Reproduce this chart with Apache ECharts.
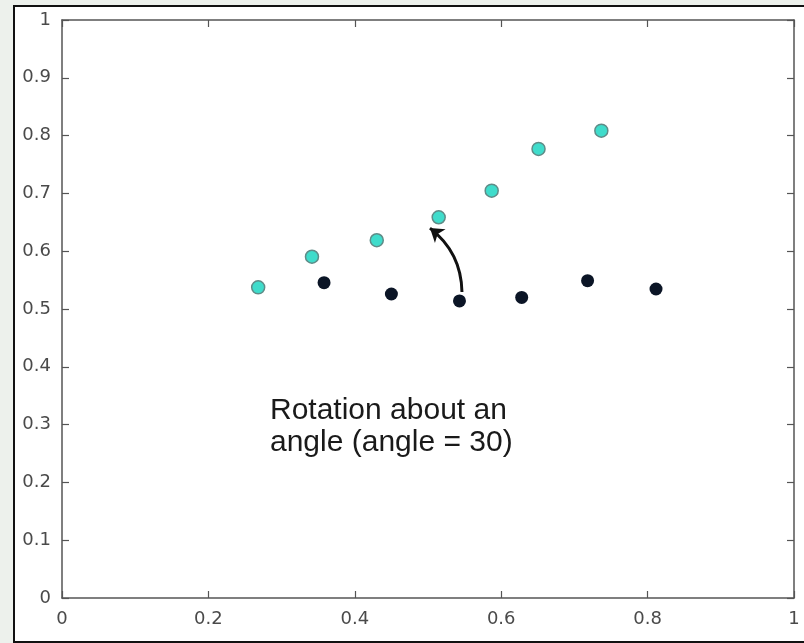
<!DOCTYPE html>
<html>
<head>
<meta charset="utf-8">
<script src="https://cdn.jsdelivr.net/npm/echarts@6/dist/echarts.min.js"></script>
<style>
  html, body { margin: 0; padding: 0; background: #edf1ec; }
  #frame { position: absolute; left: 13px; top: 5px; width: 800px; height: 634px;
           border: 2px solid #111; border-right: none; background: #fff; }
  #chart { position: absolute; left: 0; top: 0; width: 804px; height: 643px; }
</style>
</head>
<body>
<div id="frame"></div>
<div id="chart"></div>
<script>
// Original points (dark) and the same points rotated by 30 degrees (turquoise)
const originalX = [0.358, 0.450, 0.543, 0.628, 0.718, 0.8115];
const originalY = [0.5455, 0.526, 0.514, 0.520, 0.549, 0.5346];
const rotatedX = [0.268, 0.3415, 0.430, 0.5146, 0.587, 0.651, 0.7368];
const rotatedY = [0.5375, 0.5905, 0.619, 0.6587, 0.7047, 0.777, 0.8085];

// Curved arrow from an original point towards its rotated position
const arrowFrom = [0.5464, 0.5294];
const arrowTo = [0.5027, 0.640];

const noteLines = ['Rotation about an', 'angle (angle = 30)'];

const axisColor = '#555';
const tickFont = { color: '#4a4a4a', fontSize: 18, fontFamily: 'DejaVu Sans' };

const pairs = (xs, ys) => xs.map((x, i) => [x, ys[i]]);

const chart = echarts.init(document.getElementById('chart'), null, { renderer: 'canvas' });

const frameAxis = (extra) => Object.assign({
  type: 'value', min: 0, max: 1,
  axisLine: { show: true, onZero: false, lineStyle: { color: axisColor, width: 1.5 } },
  axisTick: { show: true, inside: true, length: 7, lineStyle: { color: axisColor, width: 1.2 } },
  splitLine: { show: false }
}, extra);

chart.setOption({
  animation: false,
  backgroundColor: 'transparent',
  grid: { left: 62, top: 20, right: 10, bottom: 45, containLabel: false },
  xAxis: [
    frameAxis({ interval: 0.2, position: 'bottom',
      axisLabel: Object.assign({ margin: 12 }, tickFont) }),
    frameAxis({ interval: 0.2, position: 'top', axisLabel: { show: false } })
  ],
  yAxis: [
    frameAxis({ interval: 0.1, position: 'left',
      axisLabel: Object.assign({ margin: 11 }, tickFont) }),
    frameAxis({ interval: 0.1, position: 'right', axisLabel: { show: false } })
  ],
  series: [
    {
      type: 'scatter',
      data: pairs(originalX, originalY),
      symbolSize: 13,
      itemStyle: { color: '#0b1526', opacity: 1 },
      z: 3
    },
    {
      type: 'scatter',
      data: pairs(rotatedX, rotatedY),
      symbolSize: 13,
      itemStyle: { color: '#3fdccb', borderColor: '#5f8c88', borderWidth: 1.5, opacity: 1 },
      z: 3
    },
    {
      type: 'lines',
      coordinateSystem: 'cartesian2d',
      data: [{ coords: [arrowFrom, arrowTo] }],
      symbol: ['none', 'arrow'],
      symbolSize: [0, 13],
      lineStyle: { color: '#111', width: 3, curveness: -0.24, opacity: 1 },
      z: 4
    }
  ],
  graphic: [
    {
      type: 'text',
      left: 270,
      top: 395,
      style: {
        text: noteLines.join('\n'),
        fontFamily: 'Liberation Sans, Arial, sans-serif',
        fontSize: 30,
        lineHeight: 32,
        fill: '#1a1a1a'
      }
    }
  ]
});
</script>
</body>
</html>
